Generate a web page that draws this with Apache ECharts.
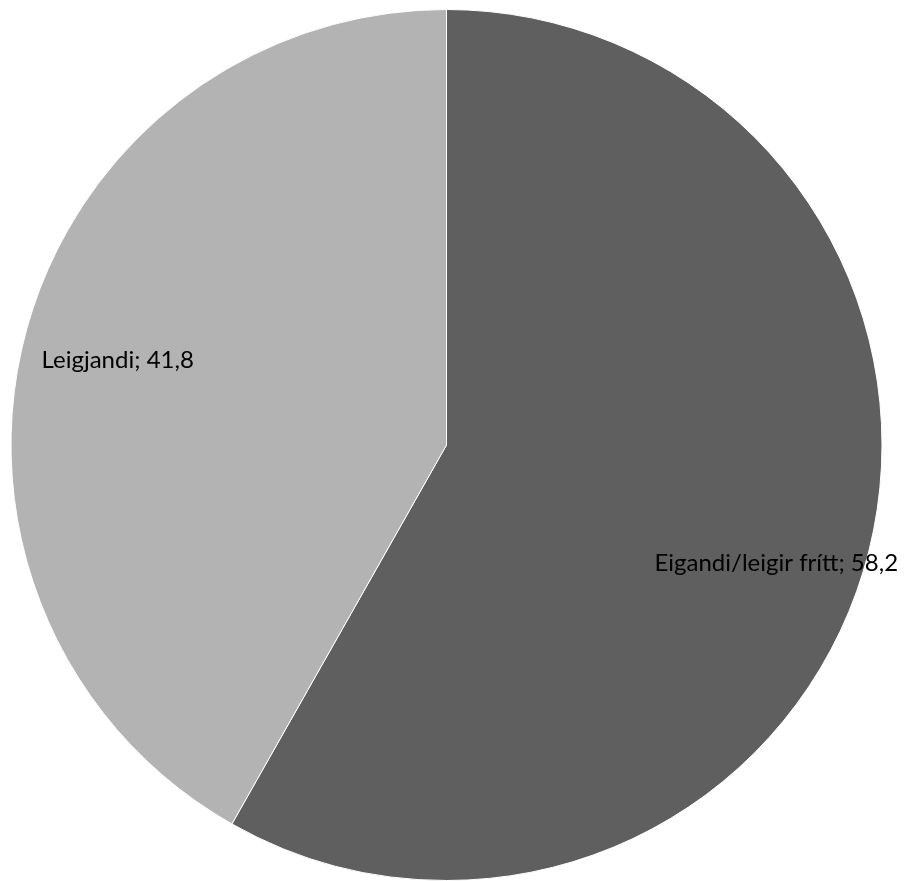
<!DOCTYPE html>
<html>
<head>
<meta charset="utf-8">
<script src="https://cdn.jsdelivr.net/npm/echarts@6/dist/echarts.min.js"></script>
<style>
html,body{margin:0;padding:0;background:#fff;}
#chart{width:904px;height:881px;}
</style>
</head>
<body>
<div id="chart"></div>
<script>
const categories = ['Eigandi/leigir frítt', 'Leigjandi'];
const values = [58.2, 41.8];
const colors = ['#5f5f5f', '#b3b3b3'];

const fmt = v => v.toFixed(1).replace('.', ',');
const pieData = categories.map((c, i) => ({ name: c, value: values[i], itemStyle: { color: colors[i] } }));
const labelData = categories.map((c, i) => ({ name: c, value: values[i] }));

const chart = echarts.init(document.getElementById('chart'), null, { renderer: 'canvas' });
chart.setOption({
  backgroundColor: '#ffffff',
  animation: false,
  series: [
    {
      type: 'pie',
      center: [446.5, 445],
      radius: [0, 435.5],
      startAngle: 90,
      clockwise: true,
      silent: true,
      label: { show: false },
      labelLine: { show: false },
      itemStyle: { borderColor: '#ffffff', borderWidth: 1 },
      data: pieData
    },
    {
      type: 'pie',
      center: [446.5, 445],
      radius: [253, 435.5],
      startAngle: 90,
      clockwise: true,
      silent: true,
      itemStyle: { color: 'rgba(0,0,0,0)' },
      label: {
        show: true,
        position: 'inside',
        color: '#000000',
        fontFamily: 'Lato',
        fontSize: 24,
        formatter: p => p.name + '; ' + fmt(p.value)
      },
      labelLine: { show: false },
      labelLayout: p => (p.dataIndex === 0 ? { dx: -6, dy: 30 } : { dx: 7, dy: 4 }),
      data: labelData
    }
  ]
});
</script>
</body>
</html>
